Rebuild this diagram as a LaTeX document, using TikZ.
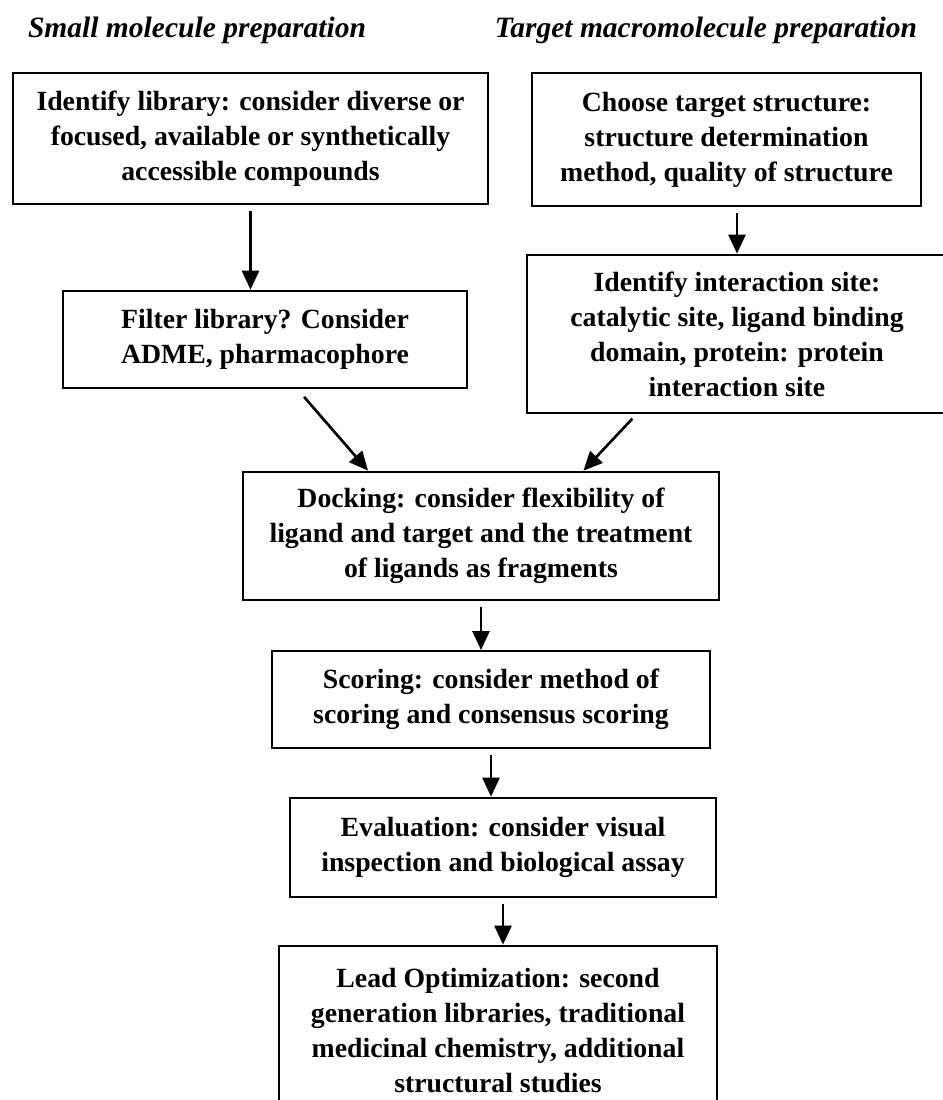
\documentclass[tikz,border=0pt]{standalone}
\usepackage{fontspec}
\setmainfont{Liberation Serif}
\usetikzlibrary{calc,arrows.meta}

\begin{document}
\begin{tikzpicture}[
  box/.style={draw, line width=1.5pt, align=center, inner sep=0pt,
    font=\bfseries\fontsize{15.8}{19.9}\selectfont},
  heading/.style={font=\bfseries\itshape\fontsize{16.8}{20}\selectfont},
  arr/.style={line width=1.5pt, -{Triangle[width=0.34cm,length=0.38cm]},
    shorten <=0.12cm}
]

% Canvas
\useasboundingbox (0,0) rectangle (18.86,-22);
\clip (0,0) rectangle (18.86,-22);

% Column headings
\node[heading] (hsmall) at (3.94,-0.60) {Small molecule preparation};
\node[heading] (htarget) at (14.12,-0.60) {Target macromolecule preparation};

% Left column
\node[box, minimum width=9.5cm, minimum height=2.62cm] (lib) at (5.01,-2.77)
  {Identify library: consider diverse or\\ focused, available or synthetically\\ accessible compounds};
\node[box, minimum width=8.08cm, minimum height=1.94cm] (filter) at (5.30,-6.79)
  {Filter library? Consider\\ ADME, pharmacophore};

% Right column
\node[box, minimum width=7.78cm, minimum height=2.66cm] (target) at (14.53,-2.79)
  {Choose target structure:\\ structure determination\\ method, quality of structure};
\node[box, minimum width=8.4cm, minimum height=3.16cm] (site) at (14.74,-6.68)
  {Identify interaction site:\\ catalytic site, ligand binding\\ domain, protein: protein\\ interaction site};

% Common steps
\node[box, minimum width=9.52cm, minimum height=2.56cm] (dock) at (9.62,-10.72)
  {Docking: consider flexibility of\\ ligand and target and the treatment\\ of ligands as fragments};
\node[box, line width=1.1pt, minimum width=8.76cm, minimum height=1.94cm] (score) at (9.82,-13.99)
  {Scoring: consider method of\\ scoring and consensus scoring};
\node[box, minimum width=8.52cm, minimum height=1.98cm] (eval) at (10.06,-16.95)
  {Evaluation: consider visual\\ inspection and biological assay};
\node[box, minimum width=8.76cm, minimum height=3.38cm] (lead) at (9.96,-20.61)
  {Lead Optimization: second\\ generation libraries, traditional\\ medicinal chemistry, additional\\ structural studies};

% Arrows down each column
\draw[arr] (lib.south) -- (lib.south |- filter.north);
\draw[arr] (site.north |- target.south) -- (site.north);

% Arrows into docking
\draw[arr, shorten <=0.2cm] ($(filter.south west)!0.58!(filter.south east)$)
  -- ($(dock.north west)!0.264!(dock.north east)$);
\draw[arr] ($(site.south west)!0.262!(site.south east)$)
  -- ($(dock.north west)!0.714!(dock.north east)$);

% Arrows down the main chain
\draw[arr] (dock.south) -- (dock.south |- score.north);
\draw[arr] (score.south) -- (score.south |- eval.north);
\draw[arr] (eval.south) -- (eval.south |- lead.north);

\end{tikzpicture}
\end{document}
